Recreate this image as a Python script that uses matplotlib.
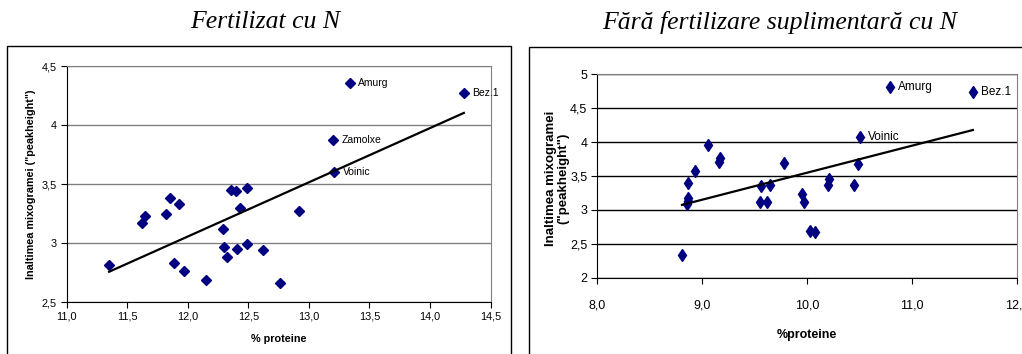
import numpy as np
import matplotlib
matplotlib.use("Agg")
import matplotlib.pyplot as plt
from matplotlib.patches import Rectangle
from matplotlib.ticker import FuncFormatter, MultipleLocator

# Fertilizat cu N
prot_n = [11.35, 11.62, 11.65, 11.82, 11.85, 11.93, 11.89, 11.97, 12.15, 12.29,
          12.30, 12.32, 12.36, 12.40, 12.49, 12.43, 12.41, 12.49, 12.62, 12.76,
          12.92, 13.20, 13.21, 13.34, 14.28]
peak_n = [2.81, 3.17, 3.23, 3.25, 3.38, 3.33, 2.83, 2.76, 2.69, 3.12,
          2.97, 2.88, 3.45, 3.44, 3.47, 3.30, 2.95, 2.99, 2.94, 2.66,
          3.27, 3.87, 3.60, 4.36, 4.27]
names_n = {21: "Zamolxe", 22: "Voinic", 23: "Amurg", 24: "Bez.1"}

# Fara fertilizare suplimentara cu N
prot_0 = [8.81, 8.87, 8.87, 8.87, 8.86, 8.93, 9.06, 9.16, 9.17, 9.55,
          9.56, 9.62, 9.65, 9.78, 9.95, 9.97, 10.03, 10.08, 10.20, 10.21,
          10.45, 10.49, 10.50, 10.79, 11.58]
peak_0 = [2.33, 3.39, 3.17, 3.13, 3.09, 3.57, 3.95, 3.70, 3.77, 3.11,
          3.35, 3.11, 3.37, 3.69, 3.24, 3.11, 2.69, 2.67, 3.37, 3.45,
          3.37, 3.67, 4.07, 4.81, 4.74]
names_0 = {22: "Voinic", 23: "Amurg", 24: "Bez.1"}

W, H = 1022, 354
fig = plt.figure(figsize=(W / 100, H / 100), dpi=100)

def comma(fmt):
    return FuncFormatter(lambda v, p: (fmt % v).replace(".", ","))

def ygen(v, p):
    s = ("%.1f" % v).rstrip("0").rstrip(".")
    return s.replace(".", ",")

def panel(rect, x, y, names, xlim, ylim, gridcol, tickfont, tsize, xpad, marker, ms, asize):
    ax = fig.add_axes(rect)
    ax.set_xlim(*xlim)
    ax.set_ylim(*ylim)
    ax.xaxis.set_major_locator(MultipleLocator(0.5 if xlim[1] - xlim[0] < 4 else 1.0))
    ax.yaxis.set_major_locator(MultipleLocator(0.5))
    ax.xaxis.set_major_formatter(comma("%.1f"))
    ax.yaxis.set_major_formatter(FuncFormatter(ygen))
    ax.grid(axis="y", color=gridcol, lw=1.0)
    ax.set_axisbelow(True)
    for s in ("top", "right"):
        ax.spines[s].set_color("#808080")
    for s in ("left", "bottom"):
        ax.spines[s].set_color("black")
    ax.tick_params(direction="out", length=4, width=0.8, pad=3)
    ax.tick_params(axis="x", pad=xpad)
    for lab in ax.get_xticklabels() + ax.get_yticklabels():
        lab.set_family(tickfont)
        lab.set_fontsize(tsize)
    ax.plot(x, y, ls="none", marker=marker, ms=ms, color="#000080", mec="#000080")
    # linear trend line, as in the original spreadsheet chart
    k, b = np.polyfit(x, y, 1)
    xs = np.array([min(x), max(x)])
    ax.plot(xs, k * xs + b, color="black", lw=1.6)
    for i, n in names.items():
        ax.annotate(n, (x[i], y[i]), xytext=(6, 0), textcoords="offset points",
                    va="center", ha="left", fontsize=asize, family=tickfont)
    return ax

sans = ["Liberation Sans", "DejaVu Sans"]

ax1 = panel([66.7 / W, 1 - 302 / H, 423.8 / W, 236 / H], prot_n, peak_n, names_n,
            (11.0, 14.5), (2.5, 4.5), "#808080", sans, 7.8, 3, "D", 4.6, 7.5)
ax1.set_xlabel("% proteine", family=sans, fontsize=7.8, fontweight="bold", labelpad=9)
ax1.set_ylabel('Inaltimea mixogramei ("peakheight")', family=sans, fontsize=7.8,
               fontweight="bold")
ax1.yaxis.set_label_coords((36 - 66.7) / 423.8, 0.5)

ax2 = panel([597 / W, 1 - 277.7 / H, 420 / W, 203.4 / H], prot_0, peak_0, names_0,
            (8.0, 12.0), (2.0, 5.0), "black", sans, 9, 12, "d", 6.5, 8.5)
ax2.set_xlabel("%proteine", family=sans, fontsize=9, fontweight="bold", labelpad=12)
ax2.set_ylabel('Inaltimea mixogramei\n("peakheight")', family=sans, fontsize=9.5,
               fontweight="bold", linespacing=1.05)
ax2.yaxis.set_label_coords((569 - 597) / 420, (277.7 - 178.5) / 203.4)

# chart frames
fig.add_artist(Rectangle((7 / W, -0.05), (511 - 7) / W, 1.05 - 45.7 / H,
                         transform=fig.transFigure, fill=False, ec="black", lw=1.0))
fig.add_artist(Rectangle((529 / W, -0.05), 0.5, 1.05 - 46.7 / H,
                         transform=fig.transFigure, fill=False, ec="black", lw=1.0))

serif = ["Liberation Serif", "DejaVu Serif"]
fig.text(265 / W, 1 - 22 / H, "Fertilizat cu N", family=serif, style="italic",
         fontsize=18.5, ha="center", va="center")
fig.text(780 / W, 1 - 22 / H, "Fără fertilizare suplimentară cu N", family=serif,
         style="italic", fontsize=18.5, ha="center", va="center")

fig.savefig("out.png", dpi=100)
